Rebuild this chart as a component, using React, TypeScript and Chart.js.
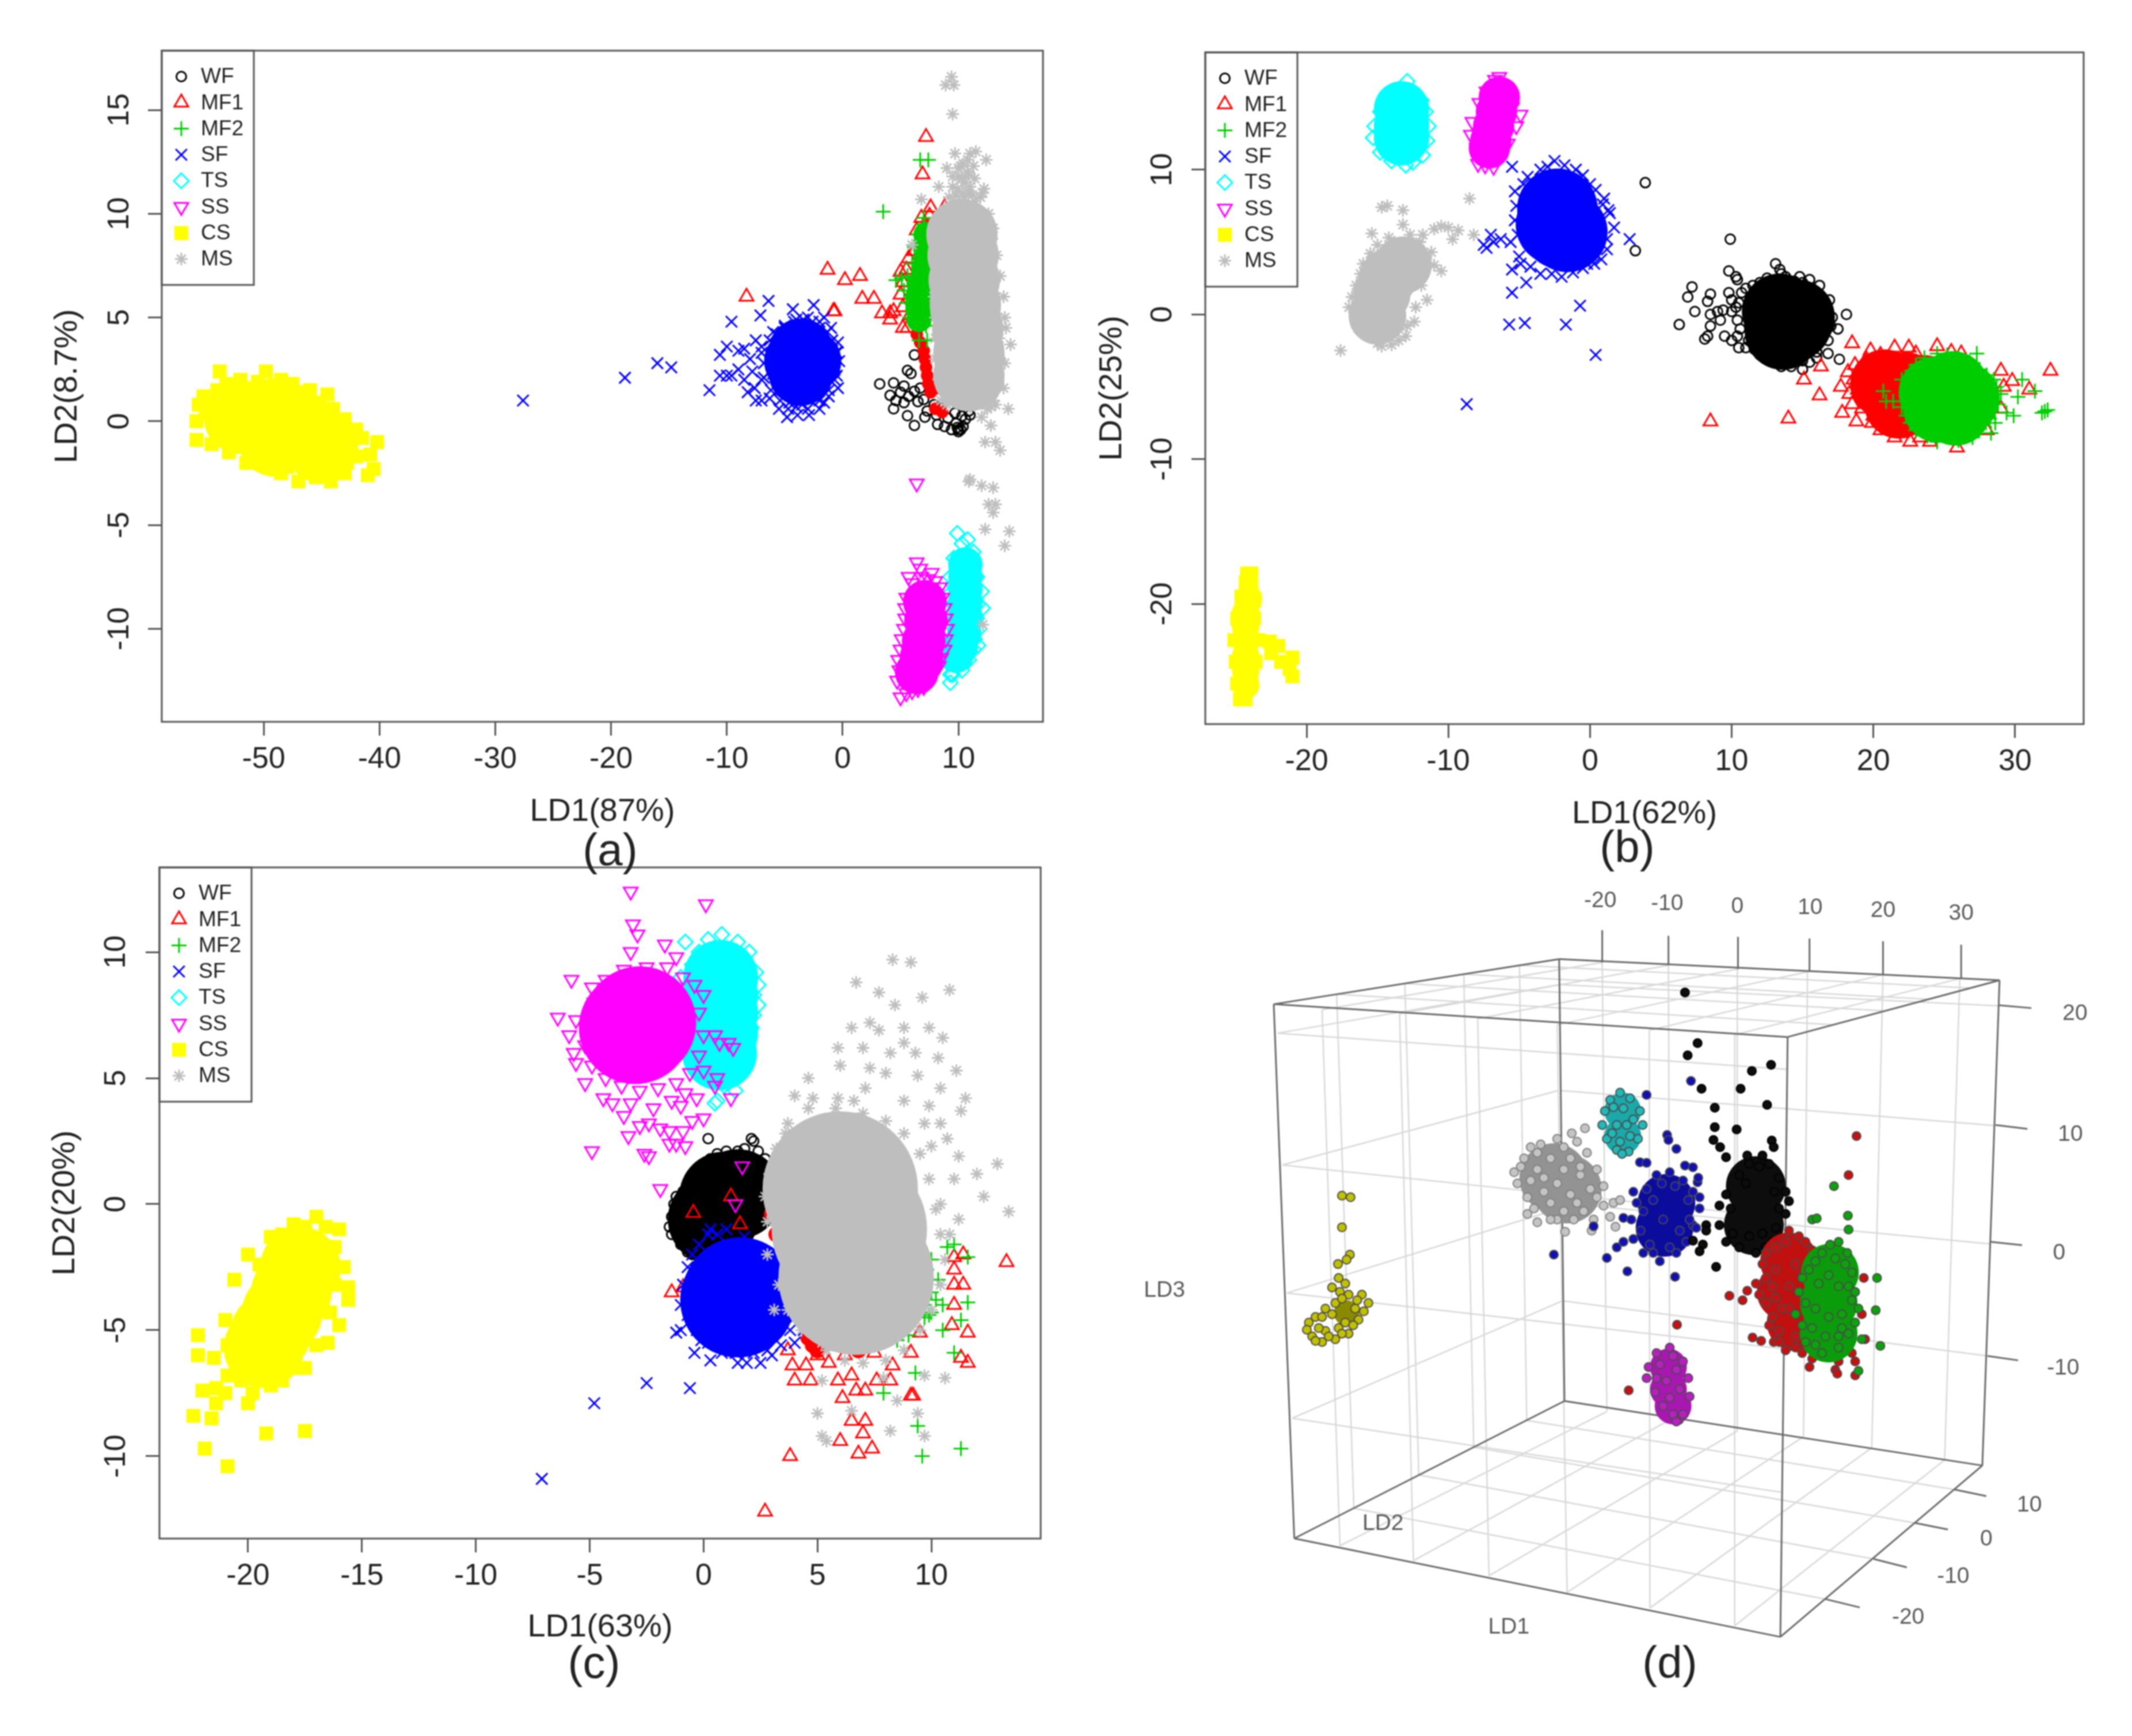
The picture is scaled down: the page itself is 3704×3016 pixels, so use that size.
import React, { useEffect, useRef } from "react";
import { Chart, registerables } from "chart.js";
import { drawPoint } from "chart.js/helpers";

Chart.register(...registerables);

type Pt = number[];

const seriesNames = ["WF", "MF1", "MF2", "SF", "TS", "SS", "CS", "MS"];

// ---------- panel (a) ----------
const aXTicks = [-50, -40, -30, -20, -10, 0, 10];
const aYTicks = [-10, -5, 0, 5, 10, 15];
const aWF: Pt[] = [[3.2,1.8],[4.4,1.85],[4.1,1.25],[4.6,1],[4.4,.6],[5.6,.27],[6.2,-.2],[5.6,2.45],[5.9,2.3],[6.2,3.2],[5.3,1.7],[6.2,1.45],[6.7,1.6],[6.5,.95],[7,1.05],[7.3,.5],[8.2,-.15],[8.8,-.25],[9.4,-.4],[10,-.5],[10.4,-.25],[10.9,.5],[9.7,.4],[10.3,.25],[9.1,.15],[8.5,.65],[7.9,.8],[5.7,1.2],[5,1.4],[9.9,-.3],[10,-.4],[10.2,-.4],[9.8,-.1],[10.6,.1],[11,.3],[8.1,.3],[7.1,.2],[5.3,.9]];
const aMF1: Pt[] = [[7.2,13.7],[6.9,11.9],[-8.3,6],[-1.3,7.3],[.2,6.8],[1.5,7],[1.7,5.9],[2.7,5.9],[3.4,5.2],[-.8,5.3],[-.7,5.3],[4.1,5.2],[4.1,4.9],[4.4,5.3],[5.2,4.5],[5.6,4.5],[5,6.1],[5.2,6.7],[5,7.2],[5.5,7.3],[5.7,7.85],[6.2,8.2],[6.8,9.8],[7.5,9.9],[7.9,9.3],[8.1,9.7],[8.8,10.3],[7.6,10.3],[5.2,5.5],[5.8,5.1],[6.4,9.2]];
const aCoreMF1: Pt[] = [[6.4,4.2],[6.7,3.8],[7,3.4],[7.1,3],[7.2,2.6],[7.3,2.2],[7.4,1.8],[7.6,1.4],[8.2,1.6],[8,.6],[8.6,.45]];
const aMF2: Pt[] = [[3.5,10.1],[6.7,12.6],[7.4,12.6],[4.6,6.8],[5.1,6.9],[5.6,7],[6,7.6],[6.2,8.4],[6.5,9],[7,9.5],[8.1,9.1],[8.6,9],[8.2,8.2],[8.3,7.6],[8,7],[7.7,6.3],[7.5,5.5],[7.5,5],[7.2,4.6],[5.8,5],[5.5,5.7],[5.3,6.3],[6.6,3.9],[7.3,3.9],[7,9.8]];
const aCoreMF2: Pt[] = [[7.2,9],[7.3,8.4],[7.2,7.8],[7,7.2],[6.6,6.6],[6.5,6],[6.5,5.4],[6.6,4.9]];
const aSF: Pt[] = [[-27.6,1],[-18.8,2.1],[-16,2.8],[-14.8,2.6],[-11.5,1.5],[-10.6,2.2],[-10,2.2],[-9.6,4.8],[-7.1,5.1],[-6.4,5.8],[-4.3,5.4],[-2.5,5.6],[-1.6,5],[-10.6,3.2],[-10,3.6],[-8.5,3.5],[-8.2,1.4],[-7.5,1],[-7,1],[-4.8,.2],[-3.9,.3],[-2.9,.3],[-2,.6],[-1.2,1.2],[-.4,1.6],[-.3,2.9],[-.4,3.8],[-1,4.5],[-3,5],[-5,4.6],[-6,4.3],[-7.5,3.9],[-9,3.4],[-9,2.5],[-8.5,2],[-7.6,1.6],[-6.3,1.1],[-5.5,.6],[-9.6,2.2],[-8,3],[-7.8,2.4],[-7,3.3],[-7,2],[-4,4.9],[-2,4.8],[-.5,2.2],[-.6,3.3],[-3.5,.8],[-1.6,.9],[-4.6,.9],[-7,3.6],[-6.8,2.8],[-6.8,2.1],[-6.2,1.5],[-5.4,1],[-4.7,.6],[-4,.7],[-3,.6],[-2,1],[-1.2,1.5],[-.7,2],[-.6,2.6],[-.5,3.3],[-.9,3.9],[-1.3,4.3],[-2,4.5],[-2.6,4.8],[-3.4,4.9],[-4.2,4.8],[-5,4.5],[-5.7,4.2],[-6.3,3.9],[-6,3.2],[-6,2.3],[-1.2,2.4],[-1.2,3.4],[-2,1.6],[-5.2,1.6]];
const aCoreSF: Pt[] = [[-3.6,3.4],[-3.6,2.3],[-2.9,2.9],[-4,2.9]];
const aTS: Pt[] = [[9.9,-5.4],[10.8,-5.7],[11.3,-6.3],[11.6,-7.5],[12,-8.2],[12.1,-9],[11.8,-10],[11.7,-10.8],[10.9,-11.5],[10.3,-12],[9.5,-12.2],[9.3,-12.6],[9.3,-12.2],[9.5,-11.7],[9.3,-10.6],[9.3,-9.3],[9.1,-8.4],[9.3,-7.5],[9.6,-6.6],[10.3,-5.9],[11,-6.6],[11.7,-8.8],[11.6,-9.5],[11.4,-10.5],[11.3,-11],[9.7,-11],[9.7,-10],[9.5,-8.8],[9.6,-7.9],[9.9,-7]];
const aCoreTS: Pt[] = [[10.6,-6.9],[10.6,-7.5],[10.6,-8.1],[10.6,-8.7],[10.6,-9.4],[10.5,-10.2],[10.2,-10.8],[9.8,-11.3]];
const aSS: Pt[] = [[6.4,-6.8],[6.7,-7.1],[7.7,-7.3],[5.7,-7.5],[8.4,-8],[8.8,-9],[9,-10],[8.8,-11],[8.3,-11.8],[7.7,-12.3],[7,-12.8],[6,-13],[5,-13.3],[4.7,-12.5],[4.8,-11.5],[5.1,-10.5],[5.4,-9.5],[5.5,-8.5],[6.4,-3],[6.8,-7.5],[7.4,-7.6],[6,-7.8],[8,-7.7],[8.6,-8.5],[8.9,-9.5],[8.9,-10.5],[8.5,-11.4],[8,-12],[7.3,-12.6],[6.5,-12.9],[5.5,-13.1],[4.9,-12],[5,-11],[5.3,-10],[5.4,-9]];
const aCoreSS: Pt[] = [[7.1,-8.7],[7.2,-9.6],[7,-10.6],[6.8,-11.4],[6.4,-12.1]];
const aCS: Pt[] = [[-55.8,-.9],[-55.8,0],[-55.6,.8],[-55.2,1.2],[-54,1.5],[-53.8,2.4],[-52,2],[-50.5,1.9],[-49.8,2.4],[-48.5,2],[-47.5,1.8],[-46,1.5],[-44.5,1.3],[-44,.6],[-43,.1],[-42,-.4],[-41.5,-.8],[-40.2,-1],[-40.8,-1.6],[-42,-1.7],[-40.5,-2.3],[-41,-2.6],[-43,-2.5],[-44.2,-2.9],[-45.5,-2.7],[-47,-2.9],[-48.5,-2.5],[-50,-2.1],[-51.5,-2],[-53,-1.5],[-54.5,-1.1],[-45,-2],[-42.8,-1.5],[-53.2,1.8],[-44.6,-.2],[-55,.4],[-54.4,.9],[-51,1.6],[-49.2,1.6],[-47,1.4],[-45.5,.9],[-43.6,-.7],[-52.5,-1.2],[-50.5,-1.7],[-48,-2.2],[-46.2,-2.2],[-44.5,-2.3],[-42.8,-2]];
const aCoreCS: Pt[] = [[-52,.2],[-49,.3],[-46.5,-.5],[-49,-.9],[-45,-1.2]];
const aMS: Pt[] = [[9.4,16.6],[8.9,16.2],[9.6,16.2],[9.5,14.8],[9.7,12.9],[11,12.9],[11.5,13],[12.4,12.6],[10.2,12.3],[10.8,12],[9,12.2],[8.3,11.3],[12.2,11.2],[12.1,11],[6.8,10.7],[6,8.5],[10.8,12.6],[10.3,11.7],[9.5,11.8],[9.9,11.2],[11,11.3],[11.4,10.6],[12.6,10],[13,9.3],[13.3,8],[13.6,7],[13.9,6],[14,5],[14.1,4.5],[14.5,3.7],[14,2.8],[13.9,1.6],[13.2,.8],[14.3,.6],[12.8,.7],[13.2,-1],[13.6,-1.4],[12.3,-1],[10.9,-2.9],[11,-2.8],[12,-3.1],[13,-3.2],[12.6,-4],[13.2,-4],[13,-4.4],[12.3,-5.2],[14.4,-5.3],[14,-6],[12.1,-9.8],[8.9,10.2],[8.4,9.6],[8.6,9],[8.2,7.8],[8.1,7],[7.9,6],[8,5],[8,4],[8,3],[8.3,2],[8.5,1],[9,.8],[11.8,10],[12,9.8],[9.2,10.8],[9.8,10.6],[10.5,10.8],[9.5,11.3],[10,11.8],[13.2,6],[13.4,5],[13.5,4],[13.6,3],[13.4,2],[13,1],[12.5,.6],[11,.7],[12.9,8.8],[12.6,9.2],[10.9,11.9],[10.4,12.4],[11.3,12.3],[12,.2],[12.8,-.2],[10.4,11],[10.9,11],[10.6,11.5],[11.4,11.7],[9.8,10.9],[11.9,10.8],[10,12.2],[11.2,10.9]];
const aCoreMS: Pt[] = [[10.9,2.2],[10.9,3.3],[10.8,4.4],[10.6,5.6],[10.5,6.8],[10.4,8],[10.3,9]];

// ---------- panel (b) ----------
const bXTicks = [-20, -10, 0, 10, 20, 30];
const bYTicks = [-20, -10, 0, 10];
const bWF: Pt[] = [[3.9,9.1],[3.2,4.4],[9.9,5.2],[9.8,3],[10.3,2.6],[10.4,2.4],[13.1,3.5],[13.4,3.1],[14.8,2.6],[15.5,2.4],[16.2,2],[6.9,1.2],[7.2,1.9],[8.5,1.4],[8.3,.9],[9.8,1.5],[10,1],[10.5,.8],[7.4,.2],[6.3,-.7],[8.5,0],[9,.2],[9.4,.3],[9.2,-.4],[8.5,-.8],[8.1,-1.7],[8.3,-1.5],[9.5,-1.5],[10,-1.8],[10.5,-2.3],[11,-2.3],[12,-2.8],[12.6,-3],[13.5,-3.6],[15,-3.8],[15.5,-3.3],[16,-3],[17.6,-3.1],[16.8,-2.7],[17.5,-1],[18.1,0],[17.1,-.2],[10.4,-.4],[10,.2],[16.9,1],[11,1.8],[12,2.2],[13.8,2.6],[10.3,.5],[10.7,1.5],[11.5,2],[12.5,2.5],[13.5,2.8],[15,2.2],[16,1.4],[16.7,.5],[17,-.8],[16.8,-1.8],[16,-2.6],[15,-3.2],[13.5,-3.4],[12.3,-2.8],[11.2,-1.8],[10.6,-1],[14.4,2.3],[13,-3.2],[14.2,-3.6],[11.6,-2.4],[10.4,-1.5]];
const bCoreWF: Pt[] = [[13.4,.2],[14.4,-.6],[13.6,-1.2],[14.6,-.2]];
const bMF1: Pt[] = [[32.5,-3.9],[31,-5.2],[29.8,-4.6],[29,-3.9],[8.5,-7.4],[14,-7.2],[15.1,-4.5],[16.3,-3.6],[16.2,-5.6],[17.7,-5],[18.2,-4],[18.5,-2],[19.8,-2.5],[21.5,-2.3],[22.5,-2.3],[24.5,-2.2],[25.5,-2.6],[26.2,-2.7],[17.8,-6.8],[18.8,-7.4],[19.9,-7.5],[20.5,-8],[21.5,-8.5],[22.6,-8.8],[24,-8.8],[25.9,-9.2],[18.3,-5.5],[28,-8],[29,-6.5],[29.2,-5],[18.6,-4.5],[18.5,-6.2],[23,-2.7],[18.7,-3.5],[19.5,-3.1],[20.5,-2.8],[18.9,-5.2],[19.2,-6.5],[20,-7],[21,-7.8],[22,-8.2],[23.3,-8.5],[20.5,-3.5],[19.3,-4]];
const bCoreMF1: Pt[] = [[20.8,-4.8],[22.3,-5],[21.8,-6.2],[23.6,-5.2]];
const bMF2: Pt[] = [[27.3,-2.7],[30.5,-4.5],[31.4,-5.3],[30.2,-5.7],[29.4,-6.8],[29.9,-7],[32.1,-6.7],[32.3,-6.6],[31.9,-6.8],[28.3,-8.2],[27,-8.5],[26,-8.7],[24.5,-8.8],[23,-8],[22.3,-7],[21.4,-6],[22,-4.5],[23,-3.5],[24.5,-2.7],[26,-3],[27.5,-3.8],[28.5,-4.5],[29,-5.5],[20.7,-5.3],[20.9,-6],[28.6,-7.5],[22.7,-3.9],[23.6,-3],[25.2,-2.8],[26.8,-3.3],[28,-4.2],[28.7,-5],[28.8,-6.2],[28.2,-7.2],[27.5,-7.9],[25.5,-8.5],[23.8,-8.4],[22.6,-7.5],[22,-6.4]];
const bCoreMF2: Pt[] = [[24.3,-5.4],[25.6,-5],[26.4,-5.8],[24.6,-6.4],[25.8,-6.6]];
const bSF: Pt[] = [[-5.5,10.2],[-3.5,10],[-2.5,10.6],[-1,10],[0,9],[1,8],[1.4,7],[1.7,6],[1.2,4.5],[.8,3.8],[-.5,3.2],[-2,2.6],[-3.5,2.8],[-4.5,2.2],[-5.5,3.1],[-5.5,1.5],[-5.6,5],[-6.3,5.2],[-7,5.5],[-7.5,4.8],[-7.3,4.6],[-6.8,5],[-5.7,-.7],[-4.6,-.6],[-1.7,-.7],[-.7,.6],[.4,-2.8],[-8.7,-6.2],[2.8,5.2],[-5.3,8.5],[-5.3,6.5],[-4.7,9],[-5,4],[-4.2,3.3],[1.3,7.2],[-.2,3.5],[-4.4,9.5],[-3,10.2],[-1.8,10.3],[-.5,9.6],[.4,8.6],[.9,7.6],[1.2,5.2],[.3,3.5],[-1.2,2.9],[-2.7,2.8],[-4.9,3.5],[-5.1,5.5],[-5.2,7.5]];
const bCoreSF: Pt[] = [[-2.3,7.3],[-2,5.9],[-1.6,5.7],[-2.4,6.2]];
const bTS: Pt[] = [[-12.9,16.1],[-13.6,15.4],[-12.5,15.4],[-14.3,14.8],[-11.9,14.8],[-14.8,14],[-11.6,14],[-15.2,13],[-11.4,13],[-15.3,12.2],[-11.5,12],[-14.8,11.2],[-11.8,11],[-14,10.6],[-13,10.3],[-12.5,10.5]];
const bCoreTS: Pt[] = [[-13.3,14.2],[-13.3,13],[-13.3,12.2]];
const bSS: Pt[] = [[-6.4,16.4],[-6.7,16.2],[-5.9,15.2],[-7.3,15.4],[-7.8,14.6],[-5.5,14.3],[-4.9,13.8],[-5.2,13],[-8.3,13.3],[-8.4,12.4],[-5.8,11.8],[-8,11.5],[-6.3,11],[-7.9,10.4],[-7.4,10.3],[-6.8,10.2]];
const bCoreSS: Pt[] = [[-6.4,15],[-6.6,14],[-6.8,13],[-7,12],[-7.1,11.5]];
const bCS: Pt[] = [[-24.2,-17.9],[-23.9,-17.9],[-24.3,-18.5],[-23.9,-18.6],[-24.6,-19.5],[-23.7,-19.8],[-24.9,-21],[-23.7,-21],[-25.1,-22.5],[-23.4,-22.5],[-22.6,-22.6],[-22,-22.9],[-22.5,-23.4],[-21,-23.7],[-21.8,-24],[-21.2,-24.5],[-21,-25],[-25,-24],[-23.6,-24],[-24.9,-25.5],[-23.9,-25.5],[-24.7,-26.6],[-24.3,-26.6]];
const bCoreCS: Pt[] = [[-24.1,-19.6],[-24.3,-20.6],[-24.3,-21.6],[-24.3,-22.6],[-24.3,-23.6],[-24.3,-24.6],[-24.3,-25.6]];
const bMS: Pt[] = [[-17.6,-2.5],[-14.7,-2.2],[-15.5,-1.5],[-16.5,-.5],[-17,.5],[-16.5,2],[-16,3.5],[-15,4.8],[-14.2,5.3],[-15.4,5.6],[-14.7,7.4],[-14.3,7.5],[-13.2,7.2],[-12.7,5.5],[-12,5],[-11,5.9],[-10.5,6.1],[-10,6],[-9.3,5.8],[-8.5,8],[-8.2,5.5],[-11.2,4.3],[-10.5,3],[-11.5,1],[-12.4,-.5],[-13,-1.5],[-14,-2.1],[-13.2,6.2],[-11.8,5.5],[-9.7,5.2],[-16,-1.2],[-16.8,1.2],[-16.2,2.8],[-15.5,4.2],[-13.8,5],[-12.8,4.9],[-11.6,3.8],[-11,3.4],[-11.9,2],[-12.3,.5],[-12.9,-.8],[-13.5,-1.8],[-15,-2]];
const bCoreMS: Pt[] = [[-15,-.1],[-14.7,1.4],[-14.2,2.6],[-13.2,3.4]];

// ---------- panel (c) ----------
const cXTicks = [-20, -15, -10, -5, 0, 5, 10];
const cYTicks = [-10, -5, 0, 5, 10];
const cWF: Pt[] = [[.2,2.6],[2.1,2.6],[2.2,2.5],[1.8,2.2],[1.5,2.1],[.6,2],[-.1,1.5],[-.5,1],[-1.2,.3],[-1.3,0],[-1.4,-.5],[-1.5,-.9],[-1.4,-1.2],[-1,-1.6],[-.7,-1.9],[2.7,1.8],[3,1.4],[-.9,.5],[-.5,-2],[.3,1.8],[1,2.1],[2.4,2.1],[-.3,1.2],[-.9,-.3],[-.9,-1],[-.6,-1.3],[-.2,.8],[.6,1.6],[1.3,1.9],[2,1.8],[2.6,1.5],[2.8,.9],[-.2,-1.6]];
const cCoreWF: Pt[] = [[.9,.3],[.4,-.6],[1.5,.4]];
const cMF1: Pt[] = [[-.45,-.35],[1.2,.3],[1.6,-.8],[-1.4,-3.5],[-.9,-3.3],[2.7,-12.2],[3.8,-10],[6,-9.4],[6.5,-8.6],[7.1,-8.6],[7,-9.1],[6.8,-9.9],[7.4,-9.7],[13.3,-2.3],[11.6,-6.3],[11.3,-6.1],[11.4,-3.2],[11,-3.2],[11,-4],[11.6,-5.1],[10.9,-4.8],[11,-2.1],[11,-2.6],[11.4,-2],[9.5,-5.1],[9.1,-5.9],[3.9,-6.4],[4,-7],[4.7,-7],[5.9,-7],[6.1,-7.7],[6.7,-7.4],[7.1,-7.4],[7.6,-7],[8.2,-7],[9.1,-7.6],[9.2,-7.6],[4.5,-6.4],[5,-6],[3.7,-5.8],[6.5,-6.8],[5.5,-6.3],[6.2,-6],[7.5,-5.9],[8.3,-6.4]];
const cCoreMF1: Pt[] = [[4.8,-5.6],[4.6,-5.3],[5,-5.8],[6.8,-5.8],[3,-.4],[3.2,-1.2],[3.6,-1.6],[4,-2]];
const cMF2: Pt[] = [[9.4,-8.8],[9.6,-10],[11.3,-9.7],[7.9,-7.5],[9.3,-6.7],[10.7,-1.7],[11,-1.6],[11.6,-2.1],[11.6,-3.9],[11.3,-4.6],[10.5,-4],[10,-4.3],[9.7,-4],[10,-3.5],[10.3,-3],[9.8,-2.6],[10,-2.2],[9.7,-4.5],[10.5,-5],[11,-5.9],[8,-4.5],[7,-5],[6,-4.8],[8.5,-5.4],[8.3,-4.6],[9,-5.2],[8.2,-4.7],[9,-3.6],[9.5,-3.2],[9.9,-4.4],[10.2,-3.8],[9.6,-3.6]];
const cSF: Pt[] = [[-7.1,-10.9],[-4.8,-7.9],[-2.5,-7.1],[-.6,-7.3],[-.4,-5.9],[.3,-6.2],[1.5,-6.3],[1.9,-6.3],[2.5,-6.3],[-1.2,-5.1],[-1,-5],[-.3,-5],[.2,-5.5],[-1,-4],[-.9,-3.2],[-.7,-2.5],[-.5,-2],[.2,-1.2],[.3,-1],[1,-1],[4,-4.5],[4.4,-5],[4,-5.5],[3,-6],[3.8,-2.5],[3.5,-3.4],[3.2,-2],[.8,-5.9],[2.8,-5.8],[-.7,-4.4],[-.6,-3.6],[-.2,-1.6],[.6,-1.2],[1.8,-1.3],[-.1,-5.4],[.6,-5.6],[1.4,-5.9],[2.2,-5.9],[3.4,-5.6],[3.8,-5]];
const cCoreSF: Pt[] = [[1.5,-3.8],[1.6,-3.6]];
const cTS: Pt[] = [[-.8,10.4],[.2,10.5],[.8,10.7],[1.5,10.4],[2,10],[2.3,9.2],[2.2,8.3],[2.2,7.5],[1.6,6.5],[1.5,5.7],[1.3,5],[1.1,5.1],[.9,4.7],[.5,4],[.6,4.1],[-.5,9.5],[-1,9],[1,9.8],[1.9,8.9],[2.4,8.7],[2.4,7.9],[2.1,7],[1.8,6],[1.4,4.5],[.4,10],[-.2,10],[1.4,9.9]];
const cCoreTS: Pt[] = [[.75,9],[.75,8.3],[.75,7.6],[.75,6.8],[.7,6]];
const cSS: Pt[] = [[-3.2,12.4],[.1,11.9],[-3.1,11.1],[-2.9,10.7],[-3.2,10],[-1.7,10.3],[-1.2,9.8],[-5.8,8.9],[-4.9,8.6],[-6.4,7.4],[-5.6,7.3],[-5.9,6.7],[-5.7,6],[-5.6,5.6],[-5.2,4.8],[-4.4,4.2],[-4,4],[-3.5,3.5],[-3.2,4],[-3.3,2.7],[-2.8,3.1],[-2.4,3.2],[-1.9,3],[-1.5,2.9],[-.9,2.9],[-.5,3.3],[0,3.4],[-1,3.9],[-.8,4.4],[-.3,4.2],[-4.9,2.1],[-2.6,2],[-2.4,1.9],[-1.5,2.4],[-1.2,2.4],[-.8,2.3],[-1.9,.6],[1.7,1.5],[1.4,0],[.5,6.7],[.7,6.4],[1.3,6.2],[1.1,6.4],[0,5.3],[.5,4.7],[1.2,4.2],[.6,5],[-.2,7.6],[0,8.3],[-2.5,9.4],[-3.5,9.3],[-1.4,4.1],[-2.2,3.8],[-4.3,8.9],[-4.8,8],[-5.1,7.2],[-5.2,6.3],[-4.9,5.5],[-4.3,5],[-3.6,4.7],[-2.8,4.5],[-2,4.6],[-1.2,4.8],[-.6,5.2],[-.2,5.9],[0,6.7],[-1.6,9.4],[-.9,9],[-.4,8.7]];
const cCoreSS: Pt[] = [[-3,7],[-2.8,7.2]];
const cCS: Pt[] = [[-17,-.5],[-16,-1],[-15.8,-2.5],[-15.6,-3.3],[-15.6,-3.8],[-16,-4.8],[-16.5,-5.5],[-17.5,-6.5],[-18.5,-7],[-19.8,-7.5],[-20,-7.9],[-21,-7.5],[-21.4,-7.3],[-22,-7.4],[-21.4,-7.9],[-22.4,-8.4],[-21.6,-8.5],[-22.2,-5.2],[-22.2,-6],[-21.5,-6.1],[-21,-4.6],[-20.6,-3],[-20,-2],[-19,-1.3],[-18,-.8],[-19.2,-9.1],[-17.5,-9],[-21.9,-9.7],[-20.9,-10.4],[-16.6,-.9],[-20.9,-6.8],[-19.5,-2.4],[-18.5,-1.2],[-17.5,-.9],[-16.2,-1.7],[-16.2,-3.2],[-16.4,-4.3],[-17,-5.6],[-18,-6.5],[-19,-7.2],[-20.3,-7],[-20.9,-5.6]];
const cCoreCS: Pt[] = [[-17.7,-2.5],[-18.1,-3.5],[-18.5,-4.3],[-19,-5.1],[-19.3,-5.7]];
const cMS: Pt[] = [[8.3,9.7],[9.1,9.6],[6.7,8.8],[7.7,8.4],[10.8,8.5],[9.6,8.2],[8.4,7.9],[7.3,7.2],[6.5,7],[7.7,6.9],[8.8,7],[9.9,7],[10.5,6.6],[5.9,6.2],[7,6.2],[8.2,6],[10.3,5.8],[6,5.5],[9.4,5.1],[11.1,5.3],[4.6,5],[4,4.3],[4.8,4.2],[5.9,4.2],[10.4,4.6],[11.5,4.2],[7.1,4.6],[8.8,4.1],[11.3,3.7],[10.4,3.2],[10,2.3],[11.2,1.9],[12,1.2],[12.9,1.6],[12.3,.3],[13.4,-.3],[11.2,-.6],[10.4,0],[10.6,-6.9],[9.7,-6.8],[5.2,-9.2],[5.4,-9.4],[5,-8.3],[8.2,-9],[9.7,-9.2],[8.5,-7.8],[9.4,-8.3],[6.5,-8.2],[5.2,-7],[7.9,-6.9],[7,-6.3],[2.8,-2],[3.3,-3.2],[3.7,-4.2],[3.1,-4.2],[4.3,-5],[5.2,-5.5],[8.8,6.4],[8,5.2],[9.3,6],[7.3,5.4],[9.9,3.9],[10.7,2.6],[9.7,3.2],[11,1],[10.8,-1.2],[3.7,3.2],[6.6,4.1],[3.2,2.2],[2.9,1.2],[2.7,.3],[2.8,-.7],[7,3.6],[8,3.3],[8.8,2.8],[9.5,2],[9.9,1],[10.2,-.2],[10.4,-1.2],[10.6,-2.2],[10.4,-3.2],[10,-4.2],[9.5,-5],[8.8,-5.8],[8,-6.2],[6.2,-6.2],[5.4,-5.8],[4.6,3.8],[5.8,3.8],[3.6,2.8]];
const cCoreMS: Pt[] = [[6,.6],[6.4,-1],[6.7,-2.9]];

// ---------- panel (d), read in the plane of the picture ----------
const dTicksLD1 = ["-20", "-10", "0", "10", "20", "30"];
const dTicksLD1At: Pt[] = [[765,68],[866,73],[972,78],[1082,80],[1192,85],[1310,90]];
const dTicksLD3 = ["20", "10", "0", "-10"];
const dTicksLD3At: Pt[] = [[1482,270],[1475,487],[1458,700],[1464,907]];
const dTicksLD2 = ["10", "0", "-10", "-20"];
const dTicksLD2At: Pt[] = [[1413,1153],[1348,1215],[1298,1282],[1230,1355]];
const dAxisNames = ["LD3", "LD2", "LD1"];
const dAxisNamesAt: Pt[] = [[107,768],[437,1187],[627,1373]];
const dBox: Pt[] = [[272,253,703,172],[703,172,1368,210],[1368,210,1048,312],[1048,312,272,253],[272,253,303,1213],[1048,312,1037,1390],[1368,210,1342,1082],[703,172,711,966],[303,1213,1037,1390],[1037,1390,1342,1082],[303,1213,711,966],[711,966,1342,1082]];
const dTickMarks: Pt[] = [[768,120,768,178],[868,130,868,183],[973,132,973,190],[1081,135,1081,195],[1192,140,1192,200],[1310,146,1310,207],[1368,255,1416,260],[1362,470,1410,477],[1355,680,1402,686],[1350,885,1396,893],[1300,1125,1348,1137],[1240,1185,1290,1197],[1178,1250,1228,1265],[1105,1322,1157,1337]];
const dGrid: Pt[] = [[345,263,372,1226],[462,270,483,1253],[580,279,597,1280],[700,290,715,1310],[839,300,840,1338],[968,308,968,1370],[367,235,393,1159],[470,216,491,1099],[559,199,574,1049],[643,183,654,1001],[768,178,775,985],[868,183,870,1000],[972,190,972,1020],[1078,195,1072,1030],[1192,200,1175,1050],[1308,207,1285,1072],[278,305,1046,370],[285,542,1043,637],[292,772,1040,872],[300,997,1038,1130],[278,305,703,218],[285,542,702,408],[292,772,704,620],[300,997,708,786],[704,218,1367,256],[704,408,1361,471],[704,610,1355,684],[708,786,1350,885],[372,1226,775,985],[483,1253,870,1000],[597,1280,972,1020],[715,1310,1072,1030],[840,1338,1175,1050],[968,1370,1285,1072],[393,1159,1105,1322],[491,1099,1178,1250],[574,1049,1240,1185],[654,1001,1300,1125],[345,263,768,178],[462,270,868,183],[580,279,972,190],[700,290,1078,195],[839,300,1192,200],[968,308,1308,207],[367,235,1118,290],[470,216,1195,265],[559,199,1261,244],[643,183,1323,224]];
const dWF: Pt[] = [[893,232],[912,323],[897,345],[994,373],[1023,362],[918,405],[977,405],[1017,434],[938,439],[938,474],[971,478],[936,497],[946,510],[1024,498],[1027,510],[955,528],[987,525],[940,725],[905,678],[920,685],[915,697],[925,650],[925,660],[1010,525],[1020,540],[1035,565],[1045,590],[1050,607],[1045,630],[1030,655],[1025,680],[1000,700],[975,690],[955,680],[945,650],[945,615],[955,595],[975,560],[990,540],[1005,545],[1010,665],[965,665],[1028,590],[1035,620],[990,670],[962,620],[1015,690],[985,575]];
const dCoreWF: Pt[] = [[1000,580],[997,650]];
const dMF1: Pt[] = [[1152,490],[1140,560],[808,947],[881,829],[960,777],[980,785],[987,768],[995,852],[1008,858],[1027,860],[1163,745],[1081,905],[1120,910],[1123,917],[1150,920],[1165,855],[1150,895],[1050,660],[1075,680],[1095,700],[1070,740],[1010,720],[1000,755],[1015,790],[1020,830],[1045,875],[1070,880],[1100,885],[1125,895],[1145,880],[1160,810],[1030,690],[1140,745],[1090,870],[1025,760],[1040,800],[1060,850],[1035,840],[1015,700],[1045,680],[1065,670],[1085,695],[1060,720],[1030,730],[1015,745],[1005,775],[1030,780],[1050,760],[1025,815],[1050,800],[1035,860],[1060,870],[1085,890],[1110,875]];
const dCoreMF1: Pt[] = [[1050,715],[1045,770],[1060,825]];
const dMF2: Pt[] = [[1118,580],[1085,640],[1092,638],[1139,633],[1140,658],[1183,745],[1181,803],[1188,867],[1155,912],[1160,855],[1125,680],[1138,700],[1145,735],[1150,770],[1155,800],[1140,845],[1125,870],[1100,880],[1075,860],[1060,810],[1065,770],[1080,730],[1100,700],[1110,740],[1090,800],[1130,810],[1105,850],[1125,760],[1112,685],[1090,715],[1120,710],[1070,745],[1135,720],[1075,790],[1145,785],[1070,830],[1150,825],[1090,865],[1125,850],[1095,755],[1110,815],[1140,760],[1085,835],[1130,835]];
const dCoreMF2: Pt[] = [[1112,735],[1110,790],[1110,845]];
const dSF: Pt[] = [[835,416],[902,391],[866,488],[880,513],[868,497],[825,537],[835,538],[893,543],[905,546],[912,573],[913,565],[815,590],[800,637],[755,652],[695,703],[775,709],[790,690],[806,733],[878,743],[800,680],[905,650],[915,600],[850,560],[870,555],[890,570],[905,590],[915,620],[910,655],[895,680],[880,700],[855,715],[830,700],[815,675],[812,640],[820,610],[835,585],[845,700],[870,690],[858,575],[878,580],[898,605],[830,625],[845,605],[900,640],[826,660],[840,685],[885,660],[860,640]];
const dCoreSF: Pt[] = [[865,610],[862,655]];
const dTS: Pt[] = [[795,412],[780,425],[810,422],[772,445],[825,445],[768,470],[829,470],[775,495],[822,495],[790,515],[808,518],[798,522],[800,440],[790,470],[810,490],[785,438],[815,460],[783,485],[805,470],[795,500]];
const dCoreTS: Pt[] = [[799,445],[799,490]];
const dSS: Pt[] = [[870,870],[850,880],[838,905],[835,925],[848,950],[860,975],[875,990],[884,1000],[890,990],[900,958],[898,925],[890,895],[880,1003],[865,930],[880,910],[855,900],[875,885],[850,925],[885,945],[870,960]];
const dCoreSS: Pt[] = [[868,905],[868,945],[875,975]];
const dCS: Pt[] = [[375,597],[388,600],[375,654],[387,703],[382,712],[369,720],[370,745],[380,755],[360,762],[372,770],[325,825],[330,850],[345,860],[365,855],[385,845],[400,820],[415,790],[405,775],[385,775],[365,790],[350,800],[335,815],[350,840],[370,835],[395,800],[340,835],[360,810],[380,825],[322,838],[335,858],[355,850],[375,845],[392,830],[408,805],[398,785],[375,782],[345,815]];
const dCoreCS: Pt[] = [[382,808]];
const dMS: Pt[] = [[742,476],[722,485],[700,495],[675,505],[650,530],[635,555],[640,575],[655,600],[655,630],[670,645],[700,640],[725,640],[755,640],[780,635],[785,610],[795,605],[770,580],[760,550],[745,520],[730,500],[788,653],[752,660],[712,662],[670,520],[690,530],[720,530],[660,570],[690,610],[730,610],[760,600],[710,550],[680,590],[660,510],[710,510],[645,545],[670,550],[700,575],[735,560],[750,585],[665,620],[710,625],[740,625],[770,615],[690,640],[735,545],[680,565],[720,595]];
const dCoreMS: Pt[] = [[695,565],[715,585]];

// ---------- look of the series ----------
const seriesColors = ["#000000", "#ff0000", "#00cd00", "#0000ff", "#00ffff", "#ff00ff", "#ffff00", "#bebebe"];
const seriesShapes = ["circle", "triangle", "cross", "crossRot", "rectRot", "triangle", "rect", "star"];
const seriesSizes = [8.5, 14, 13, 14, 13, 14, 15, 11];
const sphereColors = ["#0d0d0d", "#c81010", "#0aa40a", "#1010b4", "#20b8b8", "#b81fc0", "#c0c000", "#c4c4c4"];
const coreColors = ["#0d0d0d", "#c01010", "#0a9c0a", "#0c0c9c", "#1aa8a8", "#a818b0", "#8a8a00", "#939393"];
const FONT = "'Liberation Sans', Arial, sans-serif";

const toXY = (list: Pt[]) => list.map(([x, y]) => ({ x, y }));

function flatSeries(edges: Pt[][], cores: (Pt[] | null)[], coreRadii: number[]) {
  const sets: any[] = [];
  seriesNames.forEach((name, i) => {
    const core = cores[i];
    if (core) {
      sets.push({ label: name + " core", data: toXY(core), pointStyle: "circle", pointRadius: coreRadii[i], borderWidth: 0, pointBorderWidth: 0, backgroundColor: seriesColors[i], borderColor: seriesColors[i], order: 100 - 2 * i });
    }
    const filled = seriesShapes[i] === "rect";
    sets.push({ label: name, data: toXY(edges[i]), pointStyle: seriesShapes[i], pointRotation: name === "SS" ? 180 : 0, pointRadius: seriesSizes[i], pointBorderWidth: 3, borderColor: seriesColors[i], backgroundColor: filled ? seriesColors[i] : "rgba(0,0,0,0)", order: 99 - 2 * i });
  });
  return sets;
}

const framePlugin = {
  id: "rframe",
  afterDatasetsDraw(chart: any) {
    const { ctx, chartArea: a } = chart;
    ctx.save();
    ctx.fillStyle = "#ffffff";
    ctx.strokeStyle = "#555555";
    ctx.lineWidth = 3;
    ctx.fillRect(a.left, a.top, 160, 407);
    ctx.strokeRect(a.left, a.top, 160, 407);
    ctx.strokeRect(a.left, a.top, a.right - a.left, a.bottom - a.top);
    seriesNames.forEach((name, i) => {
      const y = a.top + 45 + i * 45.3;
      ctx.strokeStyle = seriesColors[i];
      ctx.fillStyle = seriesShapes[i] === "rect" ? seriesColors[i] : "rgba(0,0,0,0)";
      ctx.lineWidth = 3;
      drawPoint(ctx, { pointStyle: seriesShapes[i], rotation: name === "SS" ? 180 : 0, radius: seriesSizes[i], borderWidth: 3 }, a.left + 34, y);
      ctx.fillStyle = "#222222";
      ctx.font = `37px ${FONT}`;
      ctx.textAlign = "left";
      ctx.textBaseline = "middle";
      ctx.fillText(name, a.left + 68, y + 1);
    });
    ctx.restore();
  },
};

type PanelProps = {
  edges: Pt[][]; cores: (Pt[] | null)[]; coreRadii: number[];
  frame: number[]; xRange: number[]; yRange: number[]; xTicks: number[]; yTicks: number[];
  xTitle: string; yTitle: string; xTitleY: number; yTitleX: number; yTickCenter: number;
};

const noPad = (s: any) => { s.paddingTop = 0; s.paddingBottom = 0; s.paddingLeft = 0; s.paddingRight = 0; };

function Panel(p: PanelProps) {
  const ref = useRef<HTMLCanvasElement>(null);
  const [fl, ft, fr, fb] = p.frame;
  const lh = 56 * 1.2;
  const left = Math.round(p.yTitleX - lh / 2);
  const bottom = Math.round(p.xTitleY + lh / 2);
  const top = ft - 20;
  const right = fr + 20;
  useEffect(() => {
    const tickLen = 24;
    const common = { tickLength: tickLen, tickWidth: 3, tickColor: "#555555", drawOnChartArea: false };
    const chart = new Chart(ref.current as any, {
      type: "scatter",
      data: { datasets: flatSeries(p.edges, p.cores, p.coreRadii) },
      plugins: [framePlugin],
      options: {
        animation: false, responsive: false, devicePixelRatio: 1, events: [],
        layout: { autoPadding: false, padding: { top: ft - top, right: right - fr, left: 0, bottom: 0 } },
        plugins: { legend: { display: false }, tooltip: { enabled: false } },
        scales: {
          x: {
            type: "linear", min: p.xRange[0], max: p.xRange[1],
            grid: common, border: { display: false },
            afterFit: (s: any) => { s.height = bottom - fb; noPad(s); },
            afterBuildTicks: (s: any) => { s.ticks = p.xTicks.map((value) => ({ value })); },
            ticks: { padding: 10, autoSkip: false, maxRotation: 0, minRotation: 0, color: "#222222", font: { family: FONT, size: 52 } },
            title: { display: true, text: p.xTitle, color: "#222222", padding: 0, font: { family: FONT, size: 56, lineHeight: 1.2 } },
          },
          y: {
            type: "linear", min: p.yRange[0], max: p.yRange[1],
            grid: common, border: { display: false },
            afterFit: (s: any) => { s.width = fl - left; noPad(s); },
            afterBuildTicks: (s: any) => { s.ticks = p.yTicks.map((value) => ({ value })); },
            ticks: { padding: fl - p.yTickCenter - tickLen - 37.5, autoSkip: false, minRotation: 90, maxRotation: 90, crossAlign: "center", color: "#222222", font: { family: FONT, size: 52 } },
            title: { display: true, text: p.yTitle, color: "#222222", padding: 0, font: { family: FONT, size: 56, lineHeight: 1.2 } },
          },
        },
      } as any,
    });
    return () => chart.destroy();
  }, []);
  return <canvas ref={ref} width={right - left} height={bottom - top} style={{ position: "absolute", left, top, filter: "blur(1.2px)" }} />;
}

const cubeTextPlugin = {
  id: "cubetext",
  afterDatasetsDraw(chart: any) {
    const { ctx, scales } = chart;
    const put = (texts: string[], at: Pt[]) => texts.forEach((t, i) => ctx.fillText(t, scales.x.getPixelForValue(at[i][0]), scales.y.getPixelForValue(at[i][1])));
    ctx.save();
    ctx.fillStyle = "#5a5a5a";
    ctx.font = `39px ${FONT}`;
    ctx.textAlign = "center";
    ctx.textBaseline = "middle";
    put(dTicksLD1, dTicksLD1At);
    put(dTicksLD3, dTicksLD3At);
    put(dTicksLD2, dTicksLD2At);
    put(dAxisNames, dAxisNamesAt);
    ctx.restore();
  },
};

function Cube() {
  const ref = useRef<HTMLCanvasElement>(null);
  useEffect(() => {
    const seg = (s: Pt, color: string, w: number, order: number) => ({ label: "", data: [{ x: s[0], y: s[1] }, { x: s[2], y: s[3] }], showLine: true, pointRadius: 0, borderColor: color, borderWidth: w, order });
    const edges = [dWF, dMF1, dMF2, dSF, dTS, dSS, dCS, dMS];
    const cores = [dCoreWF, dCoreMF1, dCoreMF2, dCoreSF, dCoreTS, dCoreSS, dCoreCS, dCoreMS];
    const coreR = [52, 50, 50, 50, 32, 32, 22, 60];
    const drawOrder = [7, 3, 0, 1, 2, 4, 5, 6];
    const sets: any[] = [
      ...dGrid.map((s) => seg(s, "#d8d8d8", 2.5, 300)),
      ...dBox.map((s) => seg(s, "#6a6a6a", 3, 290)),
      ...dTickMarks.map((s) => seg(s, "#6a6a6a", 3, 290)),
    ];
    drawOrder.forEach((i, k) => {
      sets.push({ label: seriesNames[i] + " core", data: toXY(cores[i]), pointStyle: "circle", pointRadius: coreR[i], pointBorderWidth: 0, backgroundColor: coreColors[i], order: 100 - 2 * k });
      sets.push({ label: seriesNames[i], data: toXY(edges[i]), pointStyle: "circle", pointRadius: 7.5, pointBorderWidth: 2, borderColor: i === 0 ? "#000000" : i === 7 ? "#808080" : "#4a4a4a", backgroundColor: sphereColors[i], order: 99 - 2 * k });
    });
    const chart = new Chart(ref.current as any, {
      type: "scatter",
      data: { datasets: sets },
      plugins: [cubeTextPlugin],
      options: {
        animation: false, responsive: false, devicePixelRatio: 1, events: [],
        layout: { autoPadding: false },
        plugins: { legend: { display: false }, tooltip: { enabled: false } },
        scales: {
          x: { type: "linear", display: false, min: 0, max: 1568 },
          y: { type: "linear", display: false, min: 0, max: 1568, reverse: true },
        },
      } as any,
    });
    return () => chart.destroy();
  }, []);
  return <canvas ref={ref} width={1804} height={1516} style={{ position: "absolute", left: 1900, top: 1500, filter: "blur(1.2px)" }} />;
}

const captions: [string, number, number][] = [["(a)", 1060, 1481], ["(b)", 2827, 1476], ["(c)", 1032, 2893], ["(d)", 2901, 2893]];

export default function App() {
  return (
    <div style={{ position: "absolute", left: 0, top: 0, width: 3704, height: 3016, background: "#fff", overflow: "hidden" }}>
      <Panel
        edges={[aWF, aMF1, aMF2, aSF, aTS, aSS, aCS, aMS]}
        cores={[null, aCoreMF1, aCoreMF2, aCoreSF, aCoreTS, aCoreSS, aCoreCS, aCoreMS]}
        coreRadii={[0, 11, 22, 56, 30, 38, 64, 62]}
        frame={[281, 88, 1812, 1254]} xRange={[-58.8, 17.3]} yRange={[-14.48, 17.86]}
        xTicks={aXTicks} yTicks={aYTicks} xTitle="LD1(87%)" yTitle="LD2(8.7%)"
        xTitleY={1410} yTitleX={118} yTickCenter={209}
      />
      <Panel
        edges={[bWF, bMF1, bMF2, bSF, bTS, bSS, bCS, bMS]}
        cores={[bCoreWF, bCoreMF1, bCoreMF2, bCoreSF, bCoreTS, bCoreSS, bCoreCS, bCoreMS]}
        coreRadii={[66, 60, 62, 70, 48, 36, 24, 50]}
        frame={[2094, 91, 3620, 1258]} xRange={[-27.15, 34.84]} yRange={[-28.3, 18.1]}
        xTicks={bXTicks} yTicks={bYTicks} xTitle="LD1(62%)" yTitle="LD2(25%)"
        xTitleY={1414} yTitleX={1933} yTickCenter={2021}
      />
      <Panel
        edges={[cWF, cMF1, cMF2, cSF, cTS, cSS, cCS, cMS]}
        cores={[cCoreWF, cCoreMF1, null, cCoreSF, cCoreTS, cCoreSS, cCoreCS, cCoreMS]}
        coreRadii={[78, 14, 0, 100, 65, 98, 70, 135]}
        frame={[277, 1507, 1808, 2673]} xRange={[-23.89, 14.8]} yRange={[-13.27, 13.36]}
        xTicks={cXTicks} yTicks={cYTicks} xTitle="LD1(63%)" yTitle="LD2(20%)"
        xTitleY={2827} yTitleX={114} yTickCenter={203}
      />
      <Cube />
      {captions.map(([t, x, y]) => (
        <div key={t} style={{ position: "absolute", left: x - 100, top: y - 50, width: 200, height: 100, lineHeight: "100px", textAlign: "center", font: `78px ${FONT}`, color: "#222", filter: "blur(1px)" }}>{t}</div>
      ))}
    </div>
  );
}
